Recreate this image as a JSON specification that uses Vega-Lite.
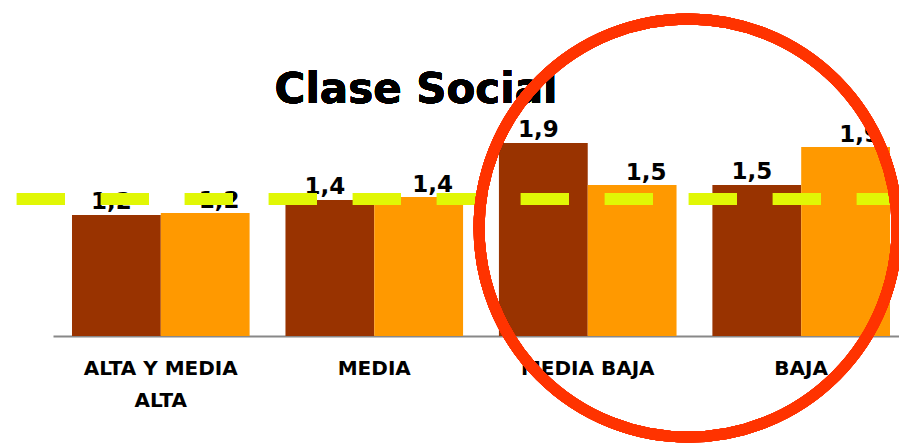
{
  "$schema": "https://vega.github.io/schema/vega-lite/v6.json",
  "width": 846,
  "height": 220,
  "autosize": {"type": "none"},
  "padding": {"left": 53, "top": 116, "right": 0, "bottom": 109},
  "background": "white",
  "config": {
    "view": {"stroke": null},
    "locale": {"number": {"decimal": ",", "thousands": ".", "grouping": [3], "currency": ["", " €"]}},
    "axisX": {
      "title": null,
      "ticks": false,
      "grid": false,
      "labelAngle": 0,
      "labelPadding": 22,
      "labelFont": "DejaVu Sans",
      "labelFontWeight": "bold",
      "labelFontSize": 20,
      "labelColor": "black",
      "labelLineHeight": 32,
      "labelLimit": 0,
      "domainColor": "#888888",
      "domainWidth": 2,
      "labelExpr": "datum.label == 'ALTA Y MEDIA ALTA' ? ['ALTA Y MEDIA', 'ALTA'] : datum.label"
    }
  },
  "data": {
    "values": [
      {"clase": "ALTA Y MEDIA ALTA", "serie": "Serie 1", "valor": 1.21},
      {"clase": "ALTA Y MEDIA ALTA", "serie": "Serie 2", "valor": 1.23},
      {"clase": "MEDIA", "serie": "Serie 1", "valor": 1.36},
      {"clase": "MEDIA", "serie": "Serie 2", "valor": 1.39},
      {"clase": "MEDIA BAJA", "serie": "Serie 1", "valor": 1.93},
      {"clase": "MEDIA BAJA", "serie": "Serie 2", "valor": 1.51},
      {"clase": "BAJA", "serie": "Serie 1", "valor": 1.51},
      {"clase": "BAJA", "serie": "Serie 2", "valor": 1.89}
    ]
  },
  "layer": [
    {
      "encoding": {
        "x": {
          "field": "clase",
          "type": "nominal",
          "scale": {
            "domain": ["ALTA Y MEDIA ALTA", "MEDIA", "MEDIA BAJA", "BAJA"],
            "range": [0, 856],
            "paddingInner": 0.168,
            "paddingOuter": 0.089
          },
          "axis": {"title": null}
        },
        "xOffset": {
          "field": "serie",
          "type": "nominal",
          "scale": {"domain": ["Serie 1", "Serie 2"], "paddingInner": 0, "paddingOuter": 0}
        },
        "y": {
          "field": "valor",
          "type": "quantitative",
          "scale": {"domain": [0, 2.2], "nice": false, "zero": true},
          "axis": null
        }
      },
      "layer": [
        {
          "mark": {"type": "bar"},
          "encoding": {
            "color": {
              "field": "serie",
              "type": "nominal",
              "scale": {"domain": ["Serie 1", "Serie 2"], "range": ["#993300", "#FF9900"]},
              "legend": null
            }
          }
        },
        {
          "transform": [{"filter": "datum.serie == 'Serie 1'"}],
          "mark": {"type": "text", "font": "DejaVu Sans", "fontWeight": "bold", "fontSize": 23, "baseline": "alphabetic", "align": "center", "dx": -5, "dy": -6, "color": "black"},
          "encoding": {"text": {"field": "valor", "type": "quantitative", "format": ".1f"}}
        },
        {
          "transform": [{"filter": "datum.serie == 'Serie 2'"}],
          "mark": {"type": "text", "font": "DejaVu Sans", "fontWeight": "bold", "fontSize": 23, "baseline": "alphabetic", "align": "center", "dx": 14, "dy": -5, "color": "black"},
          "encoding": {"text": {"field": "valor", "type": "quantitative", "format": ".1f"}}
        }
      ]
    },
    {
      "mark": {"type": "rule", "color": "#E1F705", "strokeWidth": 12, "strokeDash": [48, 36]},
      "encoding": {
        "x": {"datum": "ALTA Y MEDIA ALTA", "type": "nominal", "bandPosition": -0.31, "axis": {"title": null}},
        "x2": {"datum": "BAJA", "bandPosition": 1.014},
        "y": {"datum": 1.37, "type": "quantitative", "axis": null}
      }
    },
    {
      "mark": {"type": "text", "text": "Clase Social", "font": "DejaVu Sans", "fontWeight": "bold", "fontSize": 42, "align": "center", "baseline": "alphabetic", "color": "black"},
      "encoding": {
        "x": {"datum": "MEDIA", "type": "nominal", "bandPosition": 0.735, "axis": {"title": null}},
        "y": {"datum": 2.33, "type": "quantitative", "axis": null}
      }
    },
    {
      "mark": {"type": "point", "shape": "circle", "filled": false, "strokeWidth": 11, "color": "#FF3300", "opacity": 1, "size": 174724},
      "encoding": {
        "x": {"datum": "MEDIA BAJA", "type": "nominal", "bandPosition": 1.065, "axis": {"title": null}},
        "y": {"datum": 1.08, "type": "quantitative", "axis": null}
      }
    }
  ]
}
